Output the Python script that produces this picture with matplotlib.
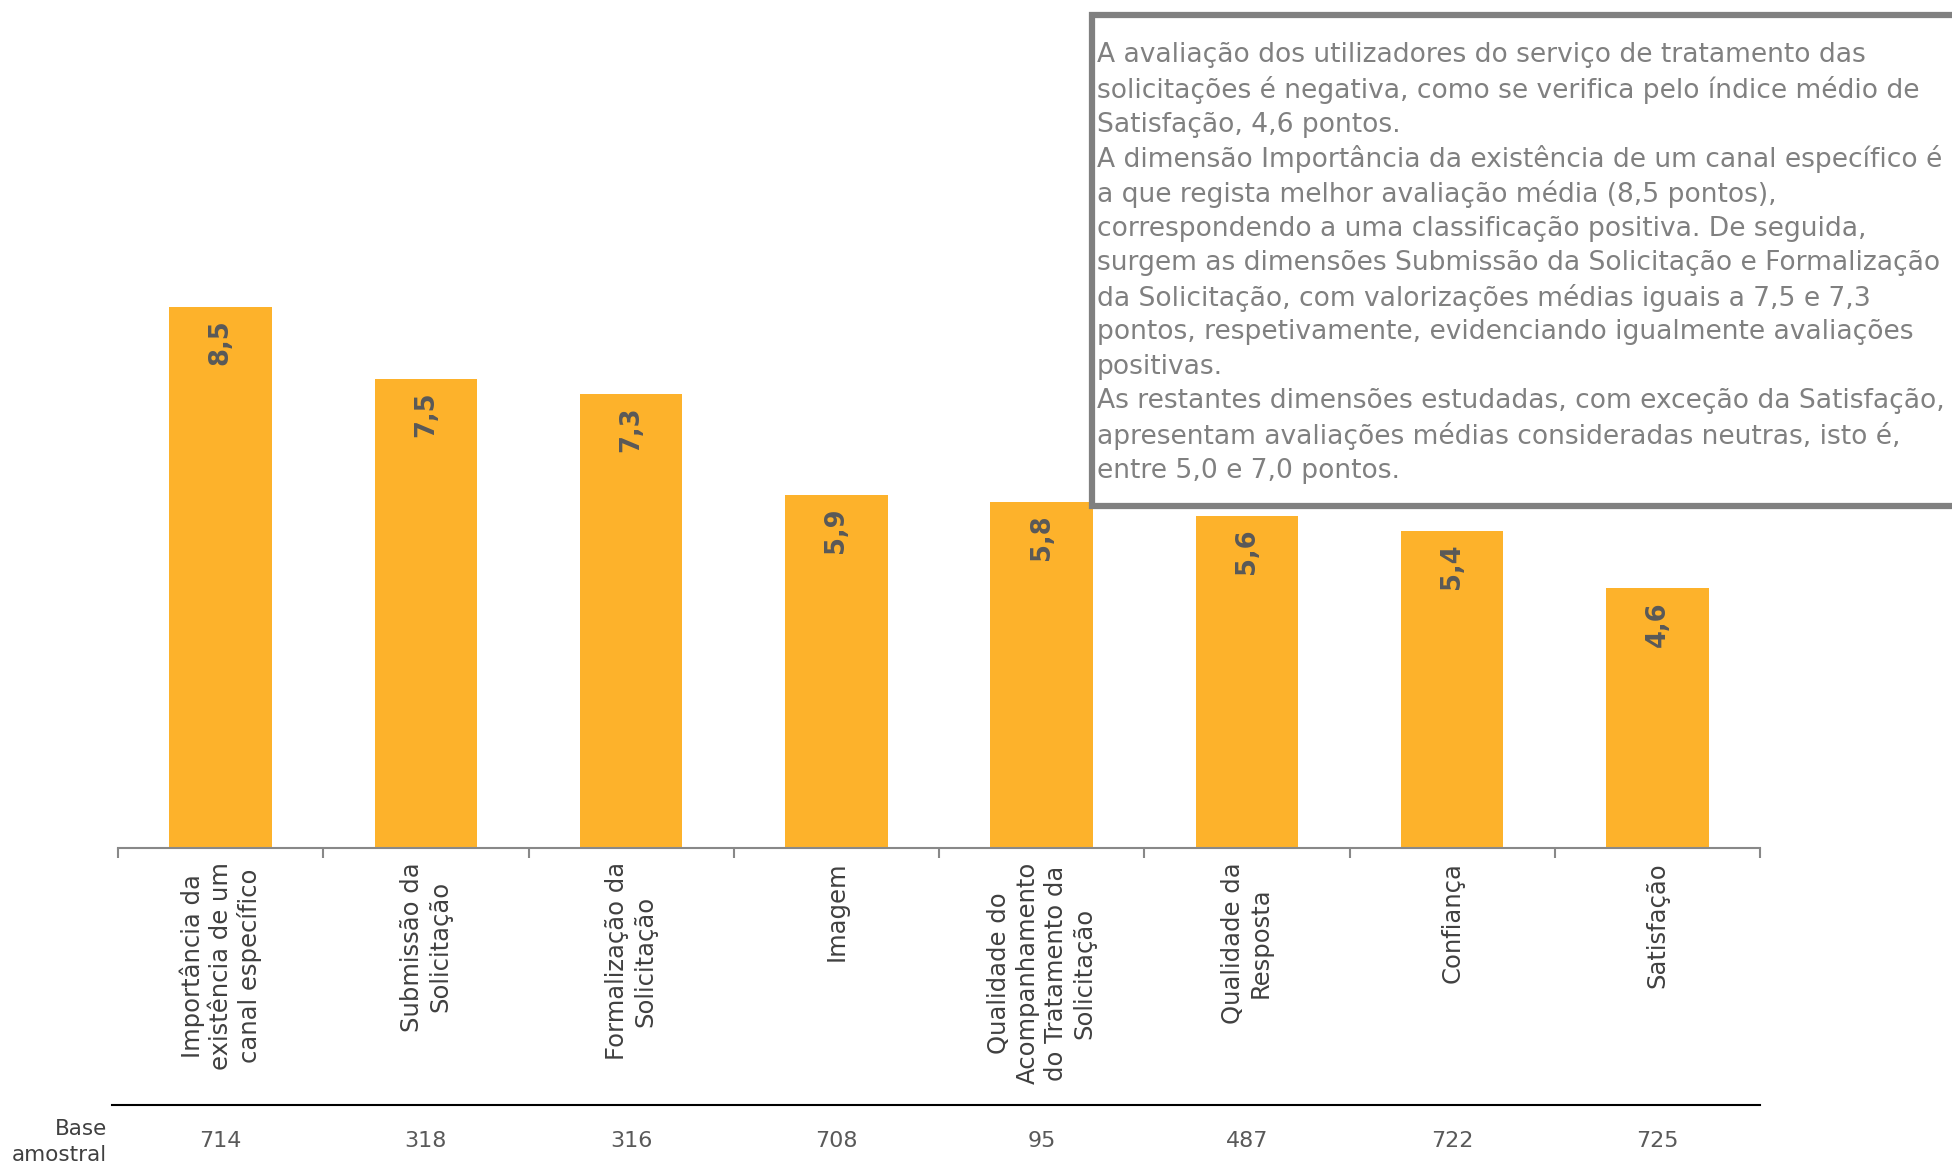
import matplotlib
matplotlib.use("Agg")
import matplotlib.pyplot as plt
from matplotlib.patches import Rectangle
from matplotlib.transforms import blended_transform_factory

# Dimensions and mean scores
categories = [
    "Importância da\nexistência de um\ncanal específico",
    "Submissão da\nSolicitação",
    "Formalização da\nSolicitação",
    "Imagem",
    "Qualidade do\nAcompanhamento\ndo Tratamento da\nSolicitação",
    "Qualidade da\nResposta",
    "Confiança",
    "Satisfação",
]
scores = [8.5, 7.5, 7.3, 5.9, 5.8, 5.6, 5.4, 4.6]
sample_sizes = [714, 318, 316, 708, 95, 487, 722, 725]
base_label = "Base\namostral"

note_lines = [
    "A avaliação dos utilizadores do serviço de tratamento das",
    "solicitações é negativa, como se verifica pelo índice médio de",
    "Satisfação, 4,6 pontos.",
    "A dimensão Importância da existência de um canal específico é",
    "a que regista melhor avaliação média (8,5 pontos),",
    "correspondendo a uma classificação positiva. De seguida,",
    "surgem as dimensões Submissão da Solicitação e Formalização",
    "da Solicitação, com valorizações médias iguais a 7,5 e 7,3",
    "pontos, respetivamente, evidenciando igualmente avaliações",
    "positivas.",
    "As restantes dimensões estudadas, com exceção da Satisfação,",
    "apresentam avaliações médias consideradas neutras, isto é,",
    "entre 5,0 e 7,0 pontos.",
]

W, H = 1952, 1170
fig = plt.figure(figsize=(W / 100, H / 100), dpi=100)
plt.rcParams["font.family"] = ["DejaVu Sans"]

# axes placement in pixels
left_px, right_px = 118, 1760
base_px = 848          # y of the category axis (from top)
px_per_unit = 72.1
ymin, ymax = 1.0, 10.0
top_px = base_px - (ymax - ymin) * px_per_unit
ax = fig.add_axes([left_px / W, 1 - base_px / H,
                   (right_px - left_px) / W, (base_px - top_px) / H])

x = list(range(len(categories)))
bar_color = "#FDB22B"
ax.bar(x, scores, width=0.5, bottom=0, color=bar_color, zorder=2)
ax.set_ylim(ymin, ymax)
ax.set_xlim(-0.5, len(categories) - 0.5)

for xi, v in zip(x, scores):
    ax.annotate(f"{v:.1f}".replace(".", ","), xy=(xi, v), xytext=(0, -9),
                textcoords="offset points", rotation=90, ha="center", va="top",
                fontsize=18.5, fontweight="bold", color="#595959", zorder=3)

for s in ["top", "right", "left"]:
    ax.spines[s].set_visible(False)
ax.spines["bottom"].set_color("#888888")
ax.spines["bottom"].set_linewidth(1.5)
ax.set_yticks([])

# category boundaries as ticks, labels at bar centres
ax.set_xticks([i - 0.5 for i in range(len(categories) + 1)])
ax.set_xticklabels([])
ax.tick_params(axis="x", which="major", length=7, width=1.5, color="#888888",
               direction="out")
ax.set_xticks(x, minor=True)
ax.set_xticklabels(categories, minor=True, rotation=90, fontsize=17.5,
                   color="#404040", ha="center", va="top",
                   multialignment="center", linespacing=1.22)
ax.tick_params(axis="x", which="minor", length=0, pad=10)

# sample-size row
trans = blended_transform_factory(ax.transData, fig.transFigure)
ax.plot([-0.53, len(categories) - 0.5], [1 - 1105 / H] * 2, transform=trans,
        color="black", lw=1.5, clip_on=False)
for xi, n in zip(x, sample_sizes):
    fig.text(xi, 1 - 1141 / H, str(n), transform=trans, ha="center",
             va="center", fontsize=16, color="#595959")
fig.text(107 / W, 1 - 1142 / H, base_label, ha="right", va="center",
         fontsize=15.5, color="#404040", linespacing=1.4)

# commentary box
fig.add_artist(Rectangle((1092 / W, 1 - 506 / H), 1000 / W, (506 - 15.5) / H,
                         transform=fig.transFigure, facecolor="white",
                         edgecolor="#808080", lw=4.5, zorder=5, clip_on=False))
for i, line in enumerate(note_lines):
    fig.text(1097 / W, 1 - (55.5 + i * 34.6) / H, line, ha="left",
             va="center", fontsize=19.1, color="#808080", zorder=6)

fig.savefig("out.png", dpi=100)
